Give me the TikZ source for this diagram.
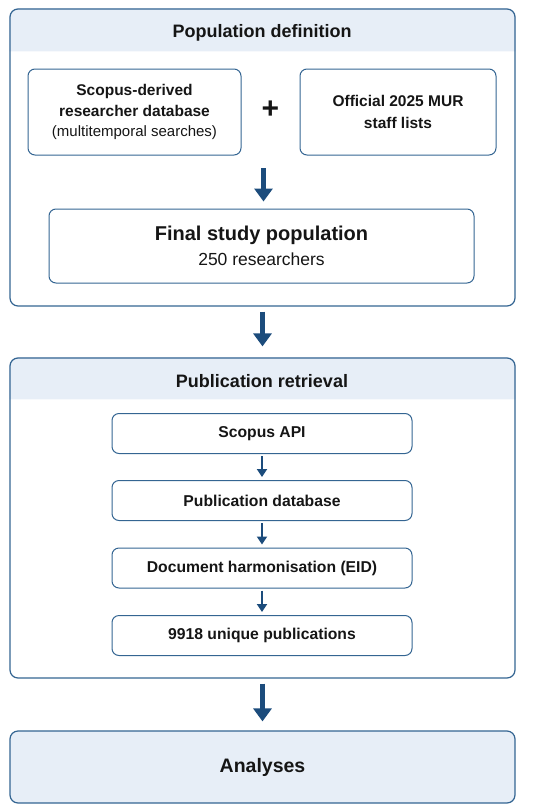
\documentclass[tikz,border=0pt]{standalone}
\usepackage{fontspec}
\setmainfont{Liberation Sans}
\usepackage{xcolor}
\definecolor{framedark}{HTML}{346592}
\definecolor{arrowdark}{HTML}{1C4C7C}
\definecolor{headlight}{HTML}{E7EEF7}
\definecolor{textdark}{HTML}{151515}
\usetikzlibrary{positioning,arrows.meta,calc,backgrounds}

\tikzset{
  stage/.style={draw=framedark, line width=1.2pt, rounded corners=8pt},
  stepbox/.style={draw=framedark, line width=1pt, rounded corners=7pt, align=center, text=textdark},
  headtext/.style={text=textdark, font=\fontsize{18}{21}\selectfont\bfseries},
  bigflow/.style={-{Triangle[width=18pt,length=13pt]}, arrowdark, line width=5pt},
  smallflow/.style={-{Triangle[width=10pt,length=8pt]}, arrowdark, line width=2.6pt},
}

\begin{document}
\begin{tikzpicture}[x=1pt, y=-1pt]
  \useasboundingbox (0,0) rectangle (550,811);

  % Population definition
  \node[stage, minimum width=505, minimum height=297] (popstage) at (262.5,157.5) {};
  \begin{scope}[on background layer]
    \fill[headlight] ($(popstage.north west)+(0,43)$) {[rounded corners=8pt] -- (popstage.north west) -- (popstage.north east)} -- ($(popstage.north east)+(0,43)$) -- cycle;
  \end{scope}
  \node[headtext] (pophead) at (262,33) {Population definition};

  \node[stepbox, minimum width=213, minimum height=86, font=\fontsize{15.5}{21}\selectfont\bfseries] (scopusdb) at (134.5,112)
    {Scopus-derived\\researcher database\\[-1pt]{\fontsize{15}{20}\selectfont\mdseries (multitemporal searches)}};
  \node[stepbox, minimum width=196, minimum height=86, font=\fontsize{15.5}{22}\selectfont\bfseries] (murlists) at (398,112)
    {Official 2025 MUR\\staff lists};
  \node[text=textdark, font=\fontsize{30}{30}\selectfont\bfseries] (plus) at (270.5,110) {+};

  \node[stepbox, minimum width=425, minimum height=74] (finalpop) at (261.5,246)
    {{\fontsize{20}{24}\selectfont\bfseries Final study population}\\[7pt]{\fontsize{17.5}{19}\selectfont 250 researchers}};
  \coordinate (merge) at (263.5,168);
  \draw[bigflow, shorten >=7pt] (merge) -- (merge |- finalpop.north);

  % Publication retrieval
  \node[stage, minimum width=505, minimum height=320] (retstage) at (262.5,518) {};
  \begin{scope}[on background layer]
    \fill[headlight] ($(retstage.north west)+(0,42)$) {[rounded corners=8pt] -- (retstage.north west) -- (retstage.north east)} -- ($(retstage.north east)+(0,42)$) -- cycle;
  \end{scope}
  \node[headtext] (rethead) at (262,381) {Publication retrieval};
  \draw[bigflow, shorten <=5pt, shorten >=11pt] (popstage.south) -- (retstage.north);

  \node[stepbox, minimum width=300, minimum height=40, font=\fontsize{15.7}{18}\selectfont\bfseries] (api) at (262,433.5) {Scopus API};
  \node[stepbox, minimum width=300, minimum height=40, font=\fontsize{15.7}{18}\selectfont\bfseries] (pubdb) at (262,500.5) {Publication database};
  \node[stepbox, minimum width=300, minimum height=40, font=\fontsize{15.7}{18}\selectfont\bfseries] (harmon) at (262,568) {Document harmonisation (EID)};
  \node[stepbox, minimum width=300, minimum height=40, font=\fontsize{15.7}{18}\selectfont\bfseries] (unique) at (262,635.5) {9918 unique publications};
  \draw[smallflow, shorten <=2pt, shorten >=3pt] (api) -- (pubdb);
  \draw[smallflow, shorten <=2pt, shorten >=3pt] (pubdb) -- (harmon);
  \draw[smallflow, shorten <=2pt, shorten >=3pt] (harmon) -- (unique);

  % Analyses
  \node[stage, fill=headlight, minimum width=505, minimum height=72, text=textdark, font=\fontsize{19.5}{22}\selectfont\bfseries] (analyses) at (262.5,767) {Analyses};
  \draw[bigflow, shorten <=5pt, shorten >=9pt] (retstage.south) -- (analyses.north);
\end{tikzpicture}
\end{document}
